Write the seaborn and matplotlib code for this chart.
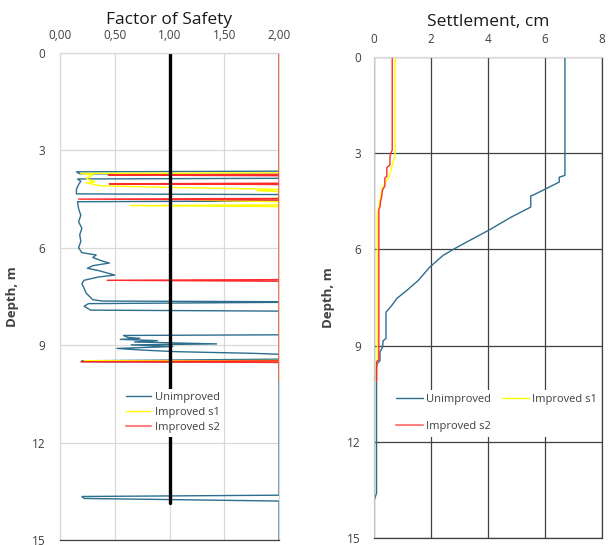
import matplotlib
matplotlib.use("Agg")
import matplotlib.pyplot as plt
import pandas as pd
import seaborn as sns
from matplotlib.lines import Line2D

# ---------------- data ----------------
series_names = ["Unimproved", "Improved s1", "Improved s2"]
series_colors = {"Unimproved": "#2d6e8e", "Improved s1": "#ffff00", "Improved s2": "#ff2a2a"}

# Factor of safety against liquefaction (capped at 2.00) vs depth (m)
fs_unimp_depth = [0.0, 3.64, 3.66, 3.72, 3.74, 3.86, 3.88, 3.95, 4.05, 4.2, 4.34, 4.36, 4.56,
                  4.58, 4.8, 5.0, 5.2, 5.4, 5.6, 5.8, 6.0, 6.15, 6.22, 6.3, 6.4, 6.47, 6.55,
                  6.63, 6.7, 6.84, 6.9, 7.0, 7.1, 7.25, 7.4, 7.5, 7.6, 7.64, 7.66, 7.68, 7.72,
                  7.8, 7.92, 7.95, 8.68, 8.70, 8.76, 8.79, 8.82, 8.86, 8.90, 8.96, 8.99, 9.04,
                  9.10, 9.15, 9.20, 9.22, 9.25, 9.28, 9.43, 9.48, 9.51, 9.53, 13.62, 13.66,
                  13.72, 13.80, 15.0]
fs_unimp = [2.0, 2.0, 0.15, 0.18, 2.0, 2.0, 0.16, 0.19, 0.17, 0.15, 0.15, 2.0, 2.0,
            0.16, 0.17, 0.19, 0.17, 0.20, 0.18, 0.19, 0.17, 0.20, 0.33, 0.30, 0.38, 0.45, 0.30,
            0.25, 0.35, 0.50, 0.35, 0.22, 0.20, 0.22, 0.24, 0.27, 0.30, 0.39, 2.0, 2.0, 0.26,
            0.22, 0.28, 2.0, 2.0, 0.58, 0.62, 0.73, 0.55, 0.89, 0.68, 1.43, 0.65, 1.03,
            0.52, 0.75, 1.07, 1.34, 1.76, 2.0, 2.0, 0.20, 0.20, 2.0, 2.0, 0.20,
            0.22, 2.0, 2.0]

fs_s1_depth = [0.0, 3.69, 3.71, 3.76, 3.87, 3.97, 4.00, 4.09, 4.14, 4.20, 4.24, 4.27, 4.48,
               4.52, 4.55, 4.58, 4.68, 4.70, 4.73, 9.47, 9.49, 9.51, 10.1]
fs_s1 = [2.0, 2.0, 0.19, 0.30, 0.24, 0.32, 0.24, 0.37, 1.0, 2.0, 1.80, 2.0, 2.0,
         1.22, 1.50, 2.0, 2.0, 0.64, 2.0, 2.0, 0.22, 2.0, 2.0]

fs_s2_depth = [0.0, 3.74, 3.76, 3.78, 4.01, 4.03, 4.05, 4.48, 4.50, 4.53, 6.98, 7.00, 7.03,
               9.48, 9.51, 9.53, 10.1]
fs_s2 = [2.0, 2.0, 0.44, 2.0, 2.0, 0.45, 2.0, 2.0, 0.17, 2.0, 2.0, 0.43, 2.0,
         2.0, 0.19, 2.0, 2.0]

# reference line FS = 1.0
fs_ref_depth = [0.0, 13.85]
fs_ref = [1.0, 1.0]

# Settlement (cm) vs depth (m)
st_unimp_depth = [0.0, 3.69, 3.75, 3.90, 4.30, 4.33, 4.68, 5.00, 5.41, 5.70, 5.97, 6.19,
                  6.55, 6.97, 7.28, 7.53, 7.75, 7.96, 8.78, 8.85, 9.05, 9.20, 9.47, 9.56,
                  9.70, 13.60, 13.84]
st_unimp = [6.70, 6.70, 6.50, 6.50, 5.60, 5.50, 5.50, 4.80, 4.01, 3.40, 2.84, 2.42,
            1.96, 1.55, 1.15, 0.80, 0.62, 0.42, 0.42, 0.32, 0.30, 0.21, 0.21, 0.12,
            0.09, 0.09, 0.0]

st_s1_depth = [0.0, 3.06, 3.30, 3.53, 3.75, 4.05, 4.37, 4.78, 4.85, 9.45, 9.50, 10.1]
st_s1 = [0.74, 0.74, 0.66, 0.60, 0.52, 0.31, 0.23, 0.15, 0.12, 0.12, 0.09, 0.09]

st_s2_depth = [0.0, 2.90, 3.00, 3.10, 3.36, 3.45, 3.72, 3.78, 4.03, 4.14, 4.40, 4.51,
               4.68, 4.75, 9.45, 9.50, 10.1]
st_s2 = [0.64, 0.64, 0.59, 0.56, 0.56, 0.45, 0.45, 0.38, 0.38, 0.30, 0.26, 0.23,
         0.21, 0.17, 0.17, 0.09, 0.09]

fs_ticks = [0.0, 0.5, 1.0, 1.5, 2.0]
fs_ticklabels = ["0,00", "0,50", "1,00", "1,50", "2,00"]
st_ticks = [0, 2, 4, 6, 8]
depth_ticks = [0, 3, 6, 9, 12, 15]


def long_frame(pairs):
    frames = []
    for name, (d, v) in zip(series_names, pairs):
        frames.append(pd.DataFrame({"depth": d, "value": v, "series": name}))
    return pd.concat(frames, ignore_index=True)


fs_df = long_frame([(fs_unimp_depth, fs_unimp), (fs_s1_depth, fs_s1), (fs_s2_depth, fs_s2)])
st_df = long_frame([(st_unimp_depth, st_unimp), (st_s1_depth, st_s1), (st_s2_depth, st_s2)])
ref_df = pd.DataFrame({"depth": fs_ref_depth, "value": fs_ref})

# ---------------- style ----------------
sns.set_style("white")
plt.rcParams["font.family"] = ["Open Sans", "DejaVu Sans"]

W, H = 610, 545
fig = plt.figure(figsize=(W / 100, H / 100), dpi=100)


def px_axes(x0, y0, x1, y1):
    return fig.add_axes([x0 / W, 1 - y1 / H, (x1 - x0) / W, (y1 - y0) / H])


ax1 = px_axes(60, 53, 279, 540)
ax2 = px_axes(374, 57, 602, 538)

TICK_FS = 8.5
LABEL_COLOR = "#404040"

# ---------------- Factor of Safety ----------------
ax1.grid(True, color="#d9d9d9", linewidth=0.9)
ax1.set_axisbelow(True)
sns.lineplot(data=fs_df, x="value", y="depth", hue="series", palette=series_colors,
             sort=False, estimator=None, linewidth=1.0, legend=False, ax=ax1)
sns.lineplot(data=ref_df, x="value", y="depth", color="black", linewidth=2.4,
             sort=False, estimator=None, ax=ax1)
ax1.set_xlim(0, 2.0)
ax1.set_ylim(15, 0)
ax1.xaxis.tick_top()
ax1.set_xticks(fs_ticks)
ax1.set_xticklabels(fs_ticklabels)
ax1.set_yticks(depth_ticks)
ax1.tick_params(axis="both", length=0, labelsize=TICK_FS, labelcolor=LABEL_COLOR)
ax1.tick_params(axis="x", pad=8)
ax1.tick_params(axis="y", pad=10.5)
ax1.set_xlabel("")
ax1.set_ylabel("Depth, m", fontsize=9.5, fontweight="bold", color=LABEL_COLOR, labelpad=9)
for side in ["left", "top", "right"]:
    ax1.spines[side].set_color("#d9d9d9")
    ax1.spines[side].set_linewidth(0.9)
ax1.spines["bottom"].set_color("#404040")
ax1.spines["bottom"].set_linewidth(0.9)
ax1.text(0.5, 1.0 + 29 / 487, "Factor of Safety", transform=ax1.transAxes,
         ha="center", va="baseline", fontsize=12.5, color="#1a1a1a")

handles = [Line2D([], [], color=series_colors[n], linewidth=1.0) for n in series_names]
handles[2] = Line2D([], [], color="#ff8080", linewidth=1.5)
ax1.legend(handles, series_names, loc="upper left",
           bbox_to_anchor=(117 / W, 1 - 383 / H), bbox_transform=fig.transFigure,
           frameon=True, facecolor="white", edgecolor="none", framealpha=1.0,
           fontsize=8, handlelength=2.3, handletextpad=0.35, labelspacing=0.38,
           borderpad=0.3, labelcolor=LABEL_COLOR)

# ---------------- Settlement ----------------
ax2.grid(True, color="#404040", linewidth=0.9)
ax2.set_axisbelow(True)
sns.lineplot(data=st_df, x="value", y="depth", hue="series", palette=series_colors,
             sort=False, estimator=None, linewidth=1.0, legend=False, ax=ax2)
ax2.set_xlim(0, 8)
ax2.set_ylim(15, 0)
ax2.xaxis.tick_top()
ax2.set_xticks(st_ticks)
ax2.set_yticks(depth_ticks)
ax2.tick_params(axis="both", length=0, labelsize=TICK_FS, labelcolor=LABEL_COLOR)
ax2.tick_params(axis="x", pad=8)
ax2.tick_params(axis="y", pad=9.5)
ax2.set_xlabel("")
ax2.set_ylabel("Depth, m", fontsize=9.5, fontweight="bold", color=LABEL_COLOR, labelpad=9)
ax2.spines["left"].set_color("#c8c8c8")
ax2.spines["top"].set_color("#d9d9d9")
ax2.spines["right"].set_color("#404040")
ax2.spines["bottom"].set_color("#404040")
for side in ["left", "top", "bottom", "right"]:
    ax2.spines[side].set_linewidth(0.9)
ax2.text(0.5, 1.0 + 30.5 / 481, "Settlement, cm", transform=ax2.transAxes,
         ha="center", va="baseline", fontsize=12.5, color="#1a1a1a")

# two-column legend: row 1 Unimproved / Improved s1, row 2 Improved s2
order = ["Unimproved", "Improved s2", "Improved s1"]
handles2 = [Line2D([], [], color=series_colors[n], linewidth=1.0) for n in order]
handles2[1] = Line2D([], [], color="#ff8080", linewidth=1.5)
ax2.legend(handles2, order, loc="upper left", ncol=2,
           bbox_to_anchor=(386 / W, 1 - 384 / H), bbox_transform=fig.transFigure,
           frameon=True, facecolor="white", edgecolor="none", framealpha=1.0,
           fontsize=8, handlelength=2.4, handletextpad=0.3, labelspacing=1.45,
           columnspacing=1.0, borderpad=0.4, labelcolor=LABEL_COLOR)

fig.savefig("out.png", dpi=100)
